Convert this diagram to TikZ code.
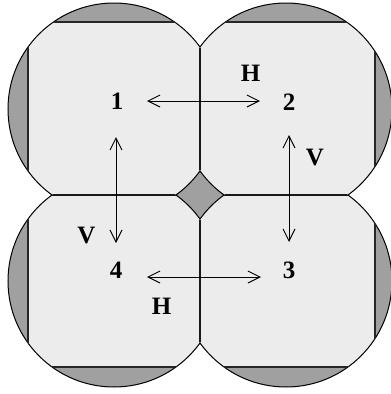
\documentclass[tikz,border=0pt]{standalone}
\usepackage{fontspec}
\setmainfont{Liberation Serif}
\usetikzlibrary{arrows.meta,calc}
\definecolor{lightcell}{RGB}{236,236,236}
\definecolor{darkcap}{RGB}{160,160,160}
\tikzset{
  lbl/.style={font=\bfseries\fontsize{25}{25}\selectfont, inner sep=0pt},
  rim/.style={draw=black, line width=1pt},
  chord/.style={draw=black!85, line width=2.2pt},
  border/.style={draw=black!90, line width=1.4pt},
  move/.style={draw=black, line width=1pt,
    {Straight Barb[length=12pt,width=12pt]}-{Straight Barb[length=12pt,width=12pt]}},
}
\begin{document}
\begin{tikzpicture}[x=1pt,y=-1pt]
\useasboundingbox (0,0) rectangle (391,394);
\clip (0,0) rectangle (391,394);
\coordinate (c1) at (114,109);
\coordinate (c2) at (286,109);
\coordinate (c3) at (286,281);
\coordinate (c4) at (114,281);
% outer caps and central gap
\foreach \c in {c1,c2,c3,c4} \fill[darkcap] (\c) circle[radius=106];
\fill[darkcap] (170,165) rectangle (230,225);
% light cells
\begin{scope}
  \clip (28,22) rectangle (375,367);
  \foreach \c in {c1,c2,c3,c4} \fill[lightcell] (\c) circle[radius=106];
\end{scope}
% circle outlines, each in its own quadrant
\begin{scope}\clip (-5,-5) rectangle (200,195); \draw[rim] (c1) circle[radius=106];\end{scope}
\begin{scope}\clip (200,-5) rectangle (400,195); \draw[rim] (c2) circle[radius=106];\end{scope}
\begin{scope}\clip (200,195) rectangle (400,400); \draw[rim] (c3) circle[radius=106];\end{scope}
\begin{scope}\clip (-5,195) rectangle (200,400); \draw[rim] (c4) circle[radius=106];\end{scope}
% chords along the square
\foreach \c in {c1,c2,c3,c4}{
  \begin{scope}\clip (\c) circle[radius=106]; \draw[chord] (28,22) rectangle (375,367);\end{scope}
}
% internal borders
\begin{scope}\clip (c1) circle[radius=106]; \clip (c2) circle[radius=106]; \draw[border] (200,0) -- (200,394);\end{scope}
\begin{scope}\clip (c4) circle[radius=106]; \clip (c3) circle[radius=106]; \draw[border] (200,0) -- (200,394);\end{scope}
\begin{scope}\clip (c1) circle[radius=106]; \clip (c4) circle[radius=106]; \draw[border] (0,195) -- (391,195);\end{scope}
\begin{scope}\clip (c2) circle[radius=106]; \clip (c3) circle[radius=106]; \draw[border] (0,195) -- (391,195);\end{scope}
% labels
\node[lbl] (n1) at (117,101) {1};
\node[lbl] (n2) at (289,102) {2};
\node[lbl] (n3) at (289,270) {3};
\node[lbl] (n4) at (116,270) {4};
\node[lbl] (hT) at (250.5,73) {H};
\node[lbl] (hB) at (161.7,306.7) {H};
\node[lbl] (vR) at (315,157.5) {V};
\node[lbl] (vL) at (86.5,236) {V};
% moves
\draw[move, shorten <=30pt, shorten >=29pt] (n1.center) -- (n1.center -| n2.center);
\draw[move, shorten <=36pt, shorten >=27pt] (n4.center |- n1.center) -- (n4.center);
\draw[move, shorten <=33pt, shorten >=28pt] (n2.center) -- (n3.center);
\draw[move, shorten <=31pt, shorten >=28pt] ($(n4.center)+(0,7)$) -- ($(n3.center)+(0,7)$);
\end{tikzpicture}
\end{document}
